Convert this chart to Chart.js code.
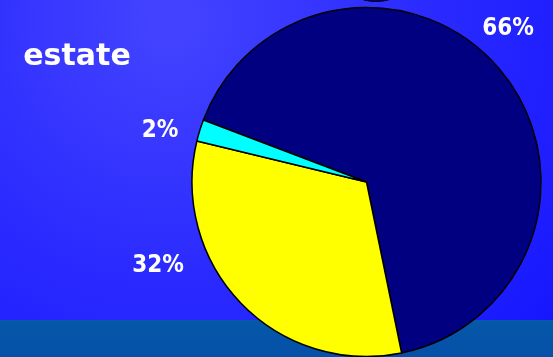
<!DOCTYPE html>
<html>
<head>
<meta charset="utf-8">
<script src="https://cdn.jsdelivr.net/npm/chart.js@4"></script>
<style>
  html, body { margin: 0; padding: 0; }
  body { width: 553px; height: 357px; overflow: hidden; }
  #wrap { position: relative; width: 553px; height: 357px; }
</style>
</head>
<body>
<div id="wrap"><canvas id="pie" width="553" height="357"></canvas></div>
<script>
// pie data
const labels = ['66%', '32%', '2%'];
const shares = [66, 32, 2];
const colors = ['#000080', '#ffff00', '#00ffff'];
const title = 'estate';

// where each percentage text sits (baseline, centred)
const labelPos = [[508, 35], [158, 272], [160, 137]];

// blue backdrop with the darker band at the bottom
const backdrop = {
  id: 'backdrop',
  beforeDraw(chart) {
    const ctx = chart.ctx;
    const w = chart.width, h = chart.height;
    ctx.save();
    const g = ctx.createRadialGradient(170, 20, 0, 170, 20, 520);
    g.addColorStop(0, '#4444ff');
    g.addColorStop(0.5, '#2a2aff');
    g.addColorStop(1, '#1414ff');
    ctx.fillStyle = g;
    ctx.fillRect(0, 0, w, 320);
    const s = ctx.createLinearGradient(0, 320, 0, h);
    s.addColorStop(0, '#0558aa');
    s.addColorStop(1, '#0550a8');
    ctx.fillStyle = s;
    ctx.fillRect(0, 320, w, h - 320);
    // edge of the shape above, cut off by the top
    ctx.beginPath();
    ctx.ellipse(376, -8, 22, 9.5, 0, 0, Math.PI * 2);
    ctx.fillStyle = '#000080';
    ctx.fill();
    ctx.lineWidth = 1;
    ctx.strokeStyle = '#000';
    ctx.stroke();
    ctx.restore();
  }
};

// title and percentage labels
const texts = {
  id: 'texts',
  afterDraw(chart) {
    const ctx = chart.ctx;
    ctx.save();
    ctx.fillStyle = '#ffffff';
    ctx.textAlign = 'center';
    ctx.textBaseline = 'alphabetic';
    ctx.font = 'bold 30px "Comic Sans MS", "DejaVu Sans", sans-serif';
    ctx.fillText(title, 77, 65);
    ctx.font = 'bold 24px "Comic Sans MS", "DejaVu Sans Condensed", "DejaVu Sans", sans-serif';
    labels.forEach((t, i) => {
      ctx.fillText(t, labelPos[i][0], labelPos[i][1]);
    });
    ctx.restore();
  }
};

new Chart(document.getElementById('pie'), {
  type: 'pie',
  data: {
    labels: labels,
    datasets: [{
      data: shares,
      backgroundColor: colors,
      borderColor: '#000000',
      borderWidth: 1.5,
      hoverOffset: 0
    }]
  },
  options: {
    responsive: false,
    animation: false,
    rotation: 290.8,
    radius: 174.5,
    layout: { padding: { left: 180, right: 0, top: 7, bottom: 0 } },
    plugins: {
      legend: { display: false },
      tooltip: { enabled: false }
    }
  },
  plugins: [backdrop, texts]
});
</script>
</body>
</html>
